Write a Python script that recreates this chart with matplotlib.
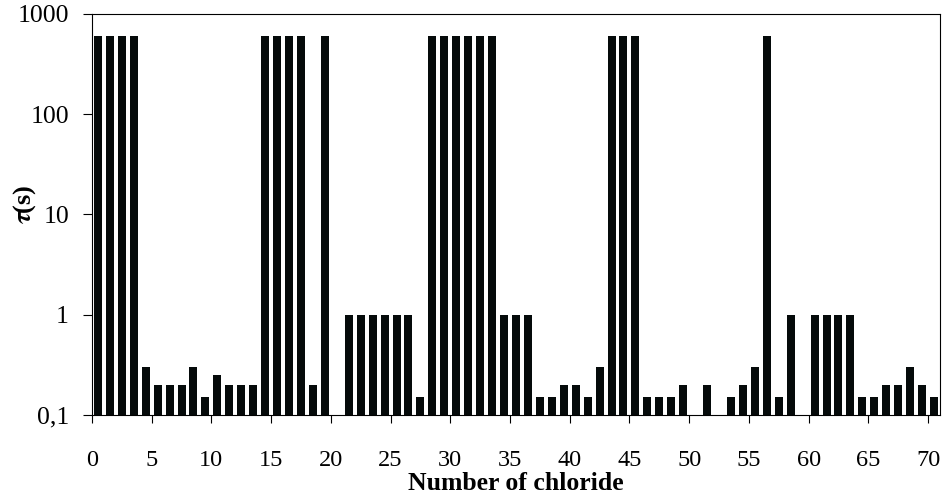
import numpy as np
import matplotlib
matplotlib.use("Agg")
import matplotlib.pyplot as plt
from matplotlib.ticker import FixedLocator, NullLocator

# Relaxation time per number of chloride (0 = no bar)
chloride = list(range(71))
tau = [600, 600, 600, 600, 0.3, 0.2, 0.2, 0.2, 0.3, 0.15,
       0.25, 0.2, 0.2, 0.2, 600, 600, 600, 600, 0.2, 600,
       0, 1, 1, 1, 1, 1, 1, 0.15, 600, 600,
       600, 600, 600, 600, 1, 1, 1, 0.15, 0.15, 0.2,
       0.2, 0.15, 0.3, 600, 600, 600, 0.15, 0.15, 0.15, 0.2,
       0, 0.2, 0, 0.15, 0.2, 0.3, 600, 0.15, 1, 0,
       1, 1, 1, 1, 0.15, 0.15, 0.2, 0.2, 0.3, 0.2,
       0.15]

y_ticks = [0.1, 1, 10, 100, 1000]
y_labels = ["0,1", "1", "10", "100", "1000"]
x_ticks = list(range(0, 71, 5))

plt.rcParams['font.family'] = ['Liberation Serif', 'DejaVu Serif']
plt.rcParams['mathtext.fontset'] = 'stix'

fig = plt.figure(figsize=(9.5, 4.97), dpi=100)
ax = fig.add_axes([0.0968, 0.165, 0.8927, 0.807])

base = 0.1
heights = [max(v - base, 0) for v in tau]
x = np.array(chloride) + 0.5
ax.bar(x, heights, bottom=base, width=0.67, color='#050a0a', linewidth=0)

ax.set_yscale('log')
ax.set_ylim(0.1, 1000)
ax.set_xlim(0, 71)
ax.yaxis.set_major_locator(FixedLocator(y_ticks))
ax.yaxis.set_minor_locator(NullLocator())
ax.set_yticklabels(y_labels)
ax.set_xticks(x_ticks)
ax.set_xticklabels([str(t) for t in x_ticks])

ax.tick_params(axis='y', direction='out', length=6.5, width=0.8, labelsize=18.5, pad=10)
ax.tick_params(axis='x', direction='out', length=5.5, width=0.8, labelsize=17.5, pad=19.5)
for s in ax.spines.values():
    s.set_linewidth(0.8)
    s.set_color('black')

ax.set_xlabel("Number of chloride", fontsize=18.5, fontweight='bold', labelpad=1)
ax.set_ylabel(r"$\boldsymbol{\tau}$(s)", fontsize=19, fontweight='bold')
ax.yaxis.set_label_coords(-0.064, 0.526)

fig.savefig("out.png", dpi=100)
